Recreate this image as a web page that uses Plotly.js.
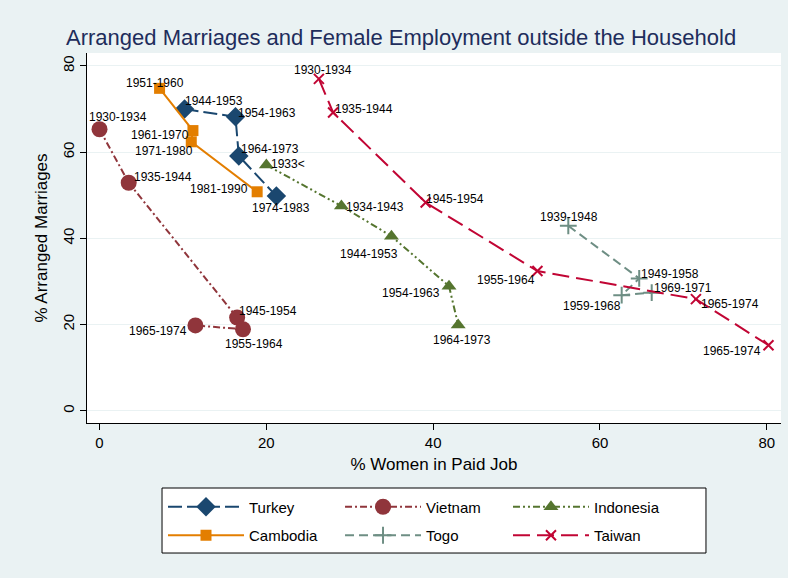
<!DOCTYPE html>
<html><head><meta charset="utf-8">
<script src="https://cdn.plot.ly/plotly-3.0.1.min.js"></script>
<style>body{margin:0;padding:0;}#chart{width:788px;height:578px;}</style>
</head><body><div id="chart"></div>
<script>
// ---- data ----
const turkeyX = [10.2, 16.3, 16.7, 21.2];
const turkeyY = [70.0, 68.2, 59.1, 49.8];
const turkeyLabels = ["1944-1953", "1954-1963", "1964-1973", "1974-1983"];

const vietnamX = [0.0, 3.5, 16.5, 17.2, 11.5];
const vietnamY = [65.3, 52.9, 21.6, 18.9, 19.8];
const vietnamLabels = ["1930-1934", "1935-1944", "1945-1954", "1955-1964", "1965-1974"];

const indonesiaX = [20.0, 29.0, 35.0, 41.9, 43.0];
const indonesiaY = [57.0, 47.5, 40.5, 28.9, 19.9];
const indonesiaLabels = ["1933<", "1934-1943", "1944-1953", "1954-1963", "1964-1973"];

const cambodiaX = [7.2, 11.2, 11.0, 18.9];
const cambodiaY = [74.8, 65.0, 62.4, 50.8];
const cambodiaLabels = ["1951-1960", "1961-1970", "1971-1980", "1981-1990"];

const togoX = [56.2, 64.7, 62.6, 66.2];
const togoY = [42.9, 30.7, 26.8, 27.4];
const togoLabels = ["1939-1948", "1949-1958", "1959-1968", "1969-1971"];

const taiwanX = [26.3, 28.0, 39.1, 52.5, 71.5, 80.2];
const taiwanY = [77.0, 69.2, 48.3, 32.4, 25.9, 15.2];
const taiwanLabels = ["1930-1934", "1935-1944", "1945-1954", "1955-1964", "1965-1974", "1965-1974"];

const xTicks = [0, 20, 40, 60, 80];
const yTicks = [0, 20, 40, 60, 80];

// ---- label offsets in pixels [dx, dy(down)] (style only) ----
const turkeyOff = [[29, -8], [32, -4], [31, -7], [5, 12]];
const vietnamOff = [[18, -12], [34, -6], [31, -7], [11, 15], [-37, 6]];
const indonesiaOff = [[22, -1], [34, 1], [-22, 18], [-38, 7], [4, 15]];
const cambodiaOff = [[-5, -5], [-33, 4], [-27, 9], [-38, -3]];
const togoOff = [[1, -9], [31, -4], [-30, 11], [31, -5]];
const taiwanOff = [[4, -9], [31, -3], [29, -4], [-31, 9], [34, 5], [-36, 6]];

const FONT = "Liberation Sans, Arial, sans-serif";

function tr(name, x, y, color, dash, symbol, msize, thin, legend, group) {
  const marker = {symbol: symbol, size: msize, color: color};
  if (thin) marker.line = {color: color, width: 2};
  return {
    type: "scatter", mode: "lines+markers", name: name, x: x, y: y,
    line: {color: color, width: 2, dash: dash},
    marker: marker, cliponaxis: false, legend: legend, legendgroup: group
  };
}

const data = [
  tr("Turkey", turkeyX, turkeyY, "#1A476F", "14px,5px", "diamond", 15, false, "legend", "a"),
  tr("Cambodia", cambodiaX, cambodiaY, "#E37E00", "solid", "square", 11, false, "legend", "b"),
  tr("Vietnam", vietnamX, vietnamY, "#90353B", "7px,3px,2px,3px", "circle", 16, false, "legend2", "c"),
  tr("Togo", togoX, togoY, "#6E8E84", "9px,5px", "cross-thin", 12, true, "legend2", "d"),
  tr("Indonesia", indonesiaX, indonesiaY, "#55752F", "7px,3px,2px,3px,2px,3px", "triangle-up", 13, false, "legend3", "e"),
  tr("Taiwan", taiwanX, taiwanY, "#C10534", "17px,7px", "x-thin", 10, true, "legend3", "f")
];

const annotations = [];
function addLabels(xs, ys, labels, offs) {
  for (let i = 0; i < xs.length; i++) {
    annotations.push({x: xs[i], y: ys[i], xref: "x", yref: "y", text: labels[i],
      showarrow: false, xanchor: "center", yanchor: "middle",
      xshift: offs[i][0], yshift: -offs[i][1],
      font: {family: FONT, size: 12, color: "#000"}});
  }
}
addLabels(turkeyX, turkeyY, turkeyLabels, turkeyOff);
addLabels(vietnamX, vietnamY, vietnamLabels, vietnamOff);
addLabels(indonesiaX, indonesiaY, indonesiaLabels, indonesiaOff);
addLabels(cambodiaX, cambodiaY, cambodiaLabels, cambodiaOff);
addLabels(togoX, togoY, togoLabels, togoOff);
addLabels(taiwanX, taiwanY, taiwanLabels, taiwanOff);

function legendCol(x) {
  return {orientation: "v", x: x, xanchor: "left", y: -0.2649, yanchor: "middle",
          bgcolor: "rgba(0,0,0,0)", borderwidth: 0, font: {size: 15, family: FONT},
          itemwidth: 76, traceorder: "grouped", tracegroupgap: 6};
}

const layout = {
  width: 788, height: 578,
  paper_bgcolor: "#EAF2F3", plot_bgcolor: "#FFFFFF",
  margin: {l: 87, r: 7, t: 53, b: 155},
  font: {family: FONT, color: "#000"},
  title: {text: "Arranged Marriages and Female Employment outside the Household",
          font: {family: FONT, size: 22, color: "#1E2D5C"},
          x: 0.509, xref: "container", xanchor: "center", y: 0.935, yref: "container", yanchor: "middle"},
  xaxis: {range: [-1.5, 81.7], tickvals: xTicks, ticktext: xTicks.map(String),
          showgrid: false, zeroline: false, showline: true, linecolor: "#000", linewidth: 1,
          ticks: "outside", ticklen: 6, tickcolor: "#000", tickfont: {size: 15, family: FONT},
          title: {text: "% Women in Paid Job", font: {size: 17, family: FONT}, standoff: 8}},
  yaxis: {range: [-2.85, 83], tickvals: yTicks, ticktext: yTicks.map(String), tickangle: -90,
          showgrid: true, gridcolor: "#EAF2F3", gridwidth: 1, zeroline: false,
          showline: true, linecolor: "#000", linewidth: 1,
          ticks: "outside", ticklen: 6, tickcolor: "#000", tickfont: {size: 15, family: FONT},
          title: {text: "% Arranged Marriages", font: {size: 17, family: FONT}, standoff: 8}},
  showlegend: true,
  legend: legendCol(0.1095),
  legend2: legendCol(0.3646),
  legend3: legendCol(0.6066),
  shapes: [{type: "rect", xref: "paper", yref: "paper",
            x0: 0.1081, x1: 0.8919, y0: -0.3514, y1: -0.1757,
            fillcolor: "#FFFFFF", line: {color: "#000", width: 1}, layer: "below"}],
  annotations: annotations
};

Plotly.newPlot("chart", data, layout, {displayModeBar: false, staticPlot: true});
</script></body></html>
